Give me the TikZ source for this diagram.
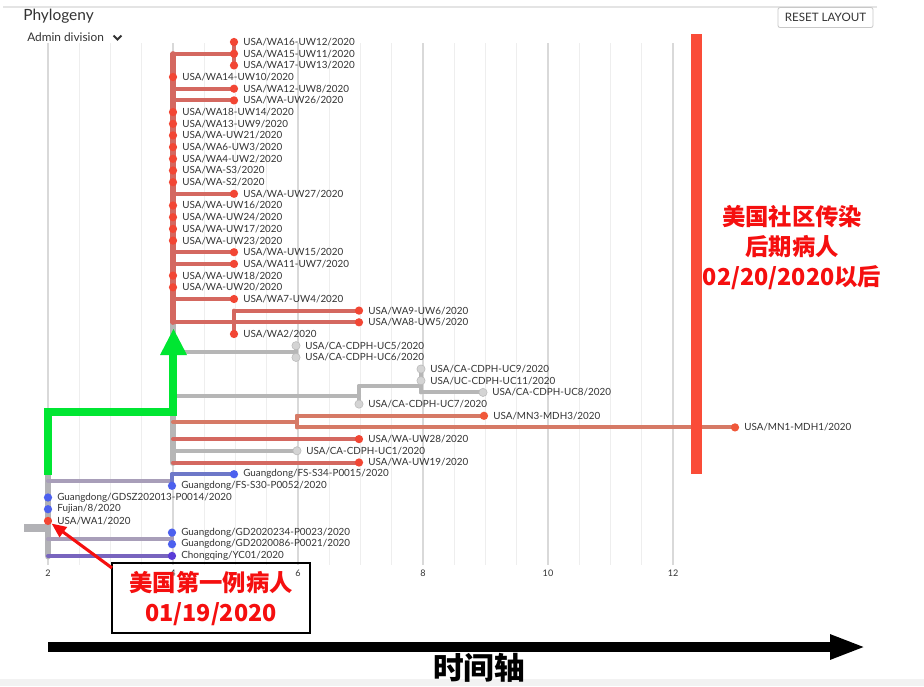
\documentclass[tikz,border=0pt]{standalone}
\usepackage{fontspec}
\setmainfont{Lato}
\newfontfamily\cjk{Noto Sans CJK SC}
\usetikzlibrary{arrows.meta}
\definecolor{tred}{RGB}{242,70,52}
\definecolor{tmn}{RGB}{240,88,58}
\definecolor{tblue}{RGB}{76,96,238}
\definecolor{tcq}{RGB}{90,60,215}
\definecolor{tgrey}{RGB}{212,212,212}
\definecolor{tgreyd}{RGB}{185,185,185}
\definecolor{bred}{RGB}{212,104,96}
\definecolor{bmn}{RGB}{214,122,102}
\definecolor{bgrey}{RGB}{182,182,182}
\definecolor{bblue}{RGB}{110,120,200}
\definecolor{bpg}{RGB}{168,158,185}
\definecolor{bcq}{RGB}{120,100,190}
\definecolor{broot}{RGB}{178,178,182}
\definecolor{gmajor}{RGB}{217,217,217}
\definecolor{gminor}{RGB}{238,238,238}
\definecolor{labgray}{RGB}{51,51,51}
\definecolor{arrgreen}{RGB}{0,230,50}
\definecolor{barred}{RGB}{250,76,56}
\definecolor{annred}{RGB}{245,15,15}
\definecolor{btn}{RGB}{200,200,200}
\definecolor{strip}{RGB}{242,242,242}
\definecolor{topln}{RGB}{228,228,228}
\pgfdeclarelayer{gridlayer}
\pgfdeclarelayer{branchlayer}
\pgfsetlayers{gridlayer,branchlayer,main}
\tikzset{
  dot/.style={circle,inner sep=0pt,minimum size=6.2pt},
  rdot/.style={fill=tred},
  mdot/.style={fill=tmn},
  bdot/.style={fill=tblue},
  pdot/.style={fill=tcq},
  gdot/.style={fill=tgrey,draw=tgreyd,line width=0.4pt},
  lab/.style={font=\fontsize{7.4}{8}\selectfont,text=labgray,inner sep=0pt,anchor=west},
  br/.style={line width=3pt,line cap=round},
  redbr/.style={br,draw=bred},
  mnbr/.style={br,draw=bmn},
  greybr/.style={br,draw=bgrey},
  bluebr/.style={br,draw=bblue},
  pgbr/.style={br,draw=bpg},
  cqbr/.style={br,draw=bcq},
  redv/.style={line width=3.8pt,line cap=round,draw=bred},
  greyv/.style={line width=5.2pt,line cap=round,draw=bgrey},
  rootv/.style={line width=5.2pt,line cap=round,draw=broot},
  majorgrid/.style={line width=1.5pt,draw=gmajor},
  minorgrid/.style={line width=0.75pt,draw=gminor},
  axlab/.style={font=\fontsize{6.8}{8}\selectfont,text=labgray,inner sep=0pt},
  anntext/.style={font=\cjk\bfseries\fontsize{17.5}{22.5}\selectfont,text=annred,align=center},
}
\newcommand\tip[5]{%
  \node[dot,#4] (#1) at (#2,#3) {};
  \node[lab] (#1l) at ([xshift=6.8pt]#1.center) {#5};}
\begin{document}
\begin{tikzpicture}[x=0.75pt,y=-0.75pt]
\useasboundingbox (0,0) rectangle (924,686);

% background and grid
\begin{pgfonlayer}{gridlayer}
\fill[white] (0,0) rectangle (924,686);
\fill[strip] (0,679) rectangle (924,686);
\draw[topln,line width=1.5pt] (3,7) -- (877,7);
\foreach \i in {0,...,20} {\draw[minorgrid] ({48+31.25*\i},43) -- ({48+31.25*\i},565);}
\foreach \i in {0,...,5} {\draw[majorgrid] ({48+125*\i},43) -- ({48+125*\i},565);}
\end{pgfonlayer}

% header
\node[anchor=west,inner sep=0pt,font=\fontsize{11.6}{13}\selectfont,text=labgray] (title) at (23,16) {Phylogeny};
\node[anchor=west,inner sep=0pt,font=\fontsize{8.9}{10}\selectfont,text=labgray] (admin) at (27,37) {Admin division};
\coordinate (chevA) at (113.5,35.5);
\coordinate (chevB) at (117.5,39.5);
\coordinate (chevC) at (121.5,35.5);
\draw[labgray,line width=1.5pt] (chevA) -- (chevB) -- (chevC);
\node[draw=btn,line width=0.6pt,rounded corners=1.5pt,minimum width=71.25pt,minimum height=15pt,inner sep=0pt,font=\fontsize{8.7}{9}\selectfont,text=labgray] (reset) at (825.5,17.5) {RESET LAYOUT};

\foreach \v [count=\k from 0] in {2,4,6,8,10,12} {\node[axlab] (ax\v) at ({48+125*\k},573) {\v};}

% tips
\tip{t1}{234}{42.0}{rdot}{USA/WA16-UW12/2020}
\tip{t2}{234}{53.7}{rdot}{USA/WA15-UW11/2020}
\tip{t3}{234}{65.4}{rdot}{USA/WA17-UW13/2020}
\tip{t4}{173}{77.0}{rdot}{USA/WA14-UW10/2020}
\tip{t5}{234}{88.7}{rdot}{USA/WA12-UW8/2020}
\tip{t6}{234}{100.4}{rdot}{USA/WA-UW26/2020}
\tip{t7}{173}{112.1}{rdot}{USA/WA18-UW14/2020}
\tip{t8}{173}{123.8}{rdot}{USA/WA13-UW9/2020}
\tip{t9}{173}{135.4}{rdot}{USA/WA-UW21/2020}
\tip{t10}{173}{147.1}{rdot}{USA/WA6-UW3/2020}
\tip{t11}{173}{158.8}{rdot}{USA/WA4-UW2/2020}
\tip{t12}{173}{170.5}{rdot}{USA/WA-S3/2020}
\tip{t13}{173}{182.2}{rdot}{USA/WA-S2/2020}
\tip{t14}{234}{193.8}{rdot}{USA/WA-UW27/2020}
\tip{t15}{173}{205.5}{rdot}{USA/WA-UW16/2020}
\tip{t16}{173}{217.2}{rdot}{USA/WA-UW24/2020}
\tip{t17}{173}{228.9}{rdot}{USA/WA-UW17/2020}
\tip{t18}{173}{240.6}{rdot}{USA/WA-UW23/2020}
\tip{t19}{234}{252.2}{rdot}{USA/WA-UW15/2020}
\tip{t20}{234}{263.9}{rdot}{USA/WA11-UW7/2020}
\tip{t21}{173}{275.6}{rdot}{USA/WA-UW18/2020}
\tip{t22}{173}{287.3}{rdot}{USA/WA-UW20/2020}
\tip{t23}{234}{299.0}{rdot}{USA/WA7-UW4/2020}
\tip{t24}{359}{310.6}{rdot}{USA/WA9-UW6/2020}
\tip{t25}{359}{322.3}{rdot}{USA/WA8-UW5/2020}
\tip{t26}{234}{334.0}{rdot}{USA/WA2/2020}
\tip{t27}{296}{345.7}{gdot}{USA/CA-CDPH-UC5/2020}
\tip{t28}{296}{357.4}{gdot}{USA/CA-CDPH-UC6/2020}
\tip{t29}{421}{369.0}{gdot}{USA/CA-CDPH-UC9/2020}
\tip{t30}{421}{380.7}{gdot}{USA/UC-CDPH-UC11/2020}
\tip{t31}{483}{392.4}{gdot}{USA/CA-CDPH-UC8/2020}
\tip{t32}{359}{404.1}{gdot}{USA/CA-CDPH-UC7/2020}
\tip{t33}{484}{415.8}{mdot}{USA/MN3-MDH3/2020}
\tip{t34}{735}{427.4}{mdot}{USA/MN1-MDH1/2020}
\tip{t35}{359}{439.1}{rdot}{USA/WA-UW28/2020}
\tip{t36}{297}{450.8}{gdot}{USA/CA-CDPH-UC1/2020}
\tip{t37}{359}{462.5}{rdot}{USA/WA-UW19/2020}
\tip{t38}{234}{474.2}{bdot}{Guangdong/FS-S34-P0015/2020}
\tip{t39}{172}{485.8}{bdot}{Guangdong/FS-S30-P0052/2020}
\tip{t40}{48}{497.5}{bdot}{Guangdong/GDSZ202013-P0014/2020}
\tip{t41}{48}{509.2}{bdot}{Fujian/8/2020}
\tip{t42}{48}{520.9}{rdot}{USA/WA1/2020}
\tip{t43}{172}{532.6}{bdot}{Guangdong/GD2020234-P0023/2020}
\tip{t44}{172}{544.2}{bdot}{Guangdong/GD2020086-P0021/2020}
\tip{t45}{172}{555.9}{pdot}{Chongqing/YC01/2020}

% internal nodes
\coordinate (root) at (48,485);
\coordinate (roottop) at (48,412);
\coordinate (stubA) at (24,528);
\coordinate (stubB) at (48,528);
\coordinate (nA) at (173,412);
\coordinate (nW) at (173,188);
\coordinate (nW1) at (234,53.7);
\coordinate (nW2) at (234,322.3);
\coordinate (nC1) at (296,351.5);
\coordinate (nC2) at (359,395.5);
\coordinate (nC3) at (421,386);
\coordinate (nM) at (297,422);
\coordinate (nG1) at (172,481);
\coordinate (nG2) at (172,539);

\begin{pgfonlayer}{branchlayer}
\draw[broot,line width=6.5pt] (stubA) -- (stubB);
\draw[rootv] (roottop) -- (root |- t45);
\draw[greybr] (roottop) -- (nA);
\draw[greyv] (nW) -- (nA |- t37);
\draw[redv] (nW |- t2) -- (nW |- t25);
\draw[redbr] (nW |- t2) -- (nW1);
\draw[redbr] (nW1 |- t1) -- (nW1 |- t3);
\foreach \t in {t5,t6,t14,t19,t20,t23} {\draw[redbr] (nW |- \t) -- (\t.center);}
\draw[redbr] (nW |- nW2) -- (nW2);
\draw[redbr] (nW2 |- t24) -- (nW2 |- t26);
\draw[redbr] (nW2 |- t24) -- (t24.center);
\draw[redbr] (nW2 |- t25) -- (t25.center);
\draw[greybr] (nA |- nC1) -- (nC1);
\draw[greybr] (nC1 |- t27) -- (nC1 |- t28);
\draw[greybr] (nA |- nC2) -- (nC2);
\draw[greybr] (nC2 |- nC3) -- (nC2 |- t32);
\draw[greybr] (nC2 |- nC3) -- (nC3);
\draw[greybr] (nC3 |- t29) -- (nC3 |- t31);
\draw[greybr] (nC3 |- t31) -- (t31.center);
\draw[mnbr] (nA |- nM) -- (nM);
\draw[mnbr] (nM |- t33) -- (nM |- t34);
\draw[mnbr] (nM |- t33) -- (t33.center);
\draw[mnbr] (nM |- t34) -- (t34.center);
\draw[redbr] (nA |- t35) -- (t35.center);
\draw[greybr] (nA |- t36) -- (t36.center);
\draw[redbr] (nA |- t37) -- (t37.center);
\draw[pgbr] (root |- nG1) -- (nG1);
\draw[bluebr] (nG1 |- t38) -- (nG1 |- t39);
\draw[bluebr] (nG1 |- t38) -- (t38.center);
\draw[pgbr] (root |- nG2) -- (nG2);
\draw[pgbr] (nG2 |- t43) -- (nG2 |- t44);
\draw[cqbr] (root |- t45) -- (t45.center);
\end{pgfonlayer}

% green arrow
\coordinate (gstart) at (48,475);
\coordinate (gend) at (173,355);
\coordinate (gL) at (160,355);
\coordinate (gR) at (187,355);
\coordinate (gtip) at (173.5,329);
\draw[arrgreen,line width=5.4pt] (gstart) -- (roottop) -- (nA) -- (gend);
\fill[arrgreen] (gL) -- (gR) -- (gtip) -- cycle;

% red bar
\coordinate (barA) at (691,34);
\coordinate (barB) at (702,474);
\fill[barred] (barA) rectangle (barB);

\node[anntext,text depth=0pt] (late) at (792,245) {美国社区传染\\后期病人\\02/20/2020以后};

% first patient box
\node[draw=black,line width=1.5pt,minimum width=148.5pt,minimum height=52.5pt,inner sep=0pt] (box) at (211,598) {};
\node[anntext] (first) at (211,599) {美国第一例病人\\01/19/2020};
\coordinate (rastart) at (112,568);
\draw[annred,line width=2.3pt,-{Triangle[length=11pt,width=9pt]}] (rastart) -- (t42);

% time axis
\coordinate (axA) at (48,647);
\coordinate (axB) at (866,647);
\draw[black,line width=6.8pt,-{Triangle[length=27pt,width=17pt]}] (axA) -- (axB);
\node[font=\cjk\bfseries\fontsize{23}{26}\selectfont,inner sep=0pt] (axis) at (479,668) {时间轴};
\end{tikzpicture}
\end{document}
